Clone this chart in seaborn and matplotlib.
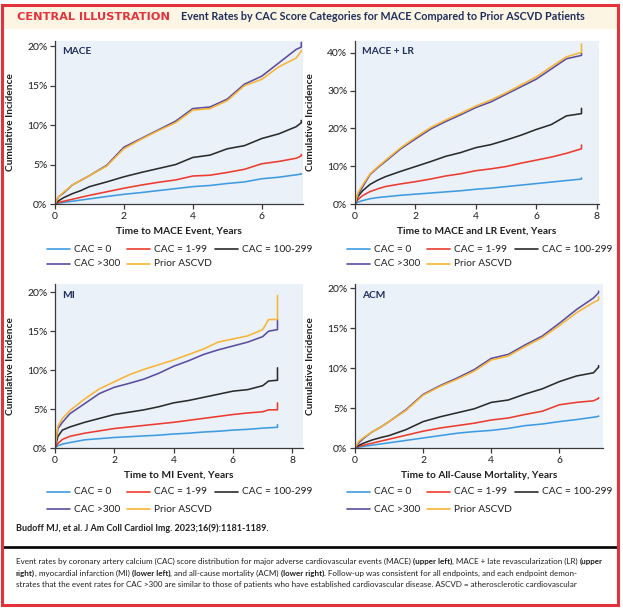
import matplotlib
matplotlib.use("Agg")
import numpy as np
import pandas as pd
import matplotlib.pyplot as plt
import seaborn as sns
from matplotlib.patches import Rectangle
from matplotlib.lines import Line2D

W, H, DPI = 623, 609, 100

groups = ["CAC = 0", "CAC = 1-99", "CAC = 100-299", "CAC >300", "Prior ASCVD"]
colors = ["#3f9be0", "#ec3b2f", "#2b2b2b", "#5b4d9f", "#f8b435"]

# MACE (upper left)
mace_t = [0, 0.1, 0.25, 0.5, 0.75, 1, 1.5, 2, 2.5, 3, 3.5, 4, 4.5, 5, 5.5, 6, 6.5, 7, 7.15, 7.15]
mace_cac0 = [0, 0.1, 0.2, 0.35, 0.5, 0.65, 0.95, 1.23, 1.45, 1.7, 1.95, 2.2, 2.35, 2.6, 2.8, 3.2, 3.4, 3.7, 3.8, 3.85]
mace_cac1 = [0, 0.2, 0.35, 0.6, 0.85, 1.1, 1.55, 2.0, 2.4, 2.75, 3.05, 3.55, 3.65, 4.0, 4.4, 5.1, 5.4, 5.8, 6.1, 6.3]
mace_cac100 = [0, 0.4, 0.8, 1.3, 1.7, 2.2, 2.8, 3.45, 4.0, 4.5, 5.0, 5.9, 6.2, 7.0, 7.4, 8.3, 8.9, 9.8, 10.3, 10.6]
mace_cac300 = [0, 0.9, 1.4, 2.4, 3.0, 3.6, 4.9, 7.2, 8.3, 9.4, 10.5, 12.1, 12.3, 13.3, 15.2, 16.2, 17.9, 19.6, 19.9, 20.5]
mace_prior = [0, 0.9, 1.5, 2.4, 3.0, 3.6, 4.8, 7.0, 8.2, 9.3, 10.3, 11.9, 12.1, 13.1, 15.0, 15.8, 17.4, 18.5, 19.4, 19.5]

# MACE + LR (upper right)
lr_t = [0, 0.1, 0.25, 0.5, 0.75, 1, 1.5, 2, 2.5, 3, 3.5, 4, 4.5, 5, 5.5, 6, 6.5, 7, 7.5, 7.5]
lr_cac0 = [0, 0.5, 0.9, 1.4, 1.7, 1.9, 2.3, 2.6, 2.9, 3.2, 3.5, 3.9, 4.2, 4.6, 5.0, 5.4, 5.8, 6.2, 6.6, 6.9]
lr_cac1 = [0, 1.2, 2.2, 3.3, 4.0, 4.6, 5.3, 5.9, 6.6, 7.4, 8.0, 8.8, 9.3, 9.9, 10.8, 11.6, 12.4, 13.4, 14.6, 15.6]
lr_cac100 = [0, 2.0, 3.5, 5.2, 6.3, 7.2, 8.6, 9.9, 11.2, 12.6, 13.6, 14.9, 15.7, 16.9, 18.2, 19.7, 21.0, 23.3, 23.9, 25.3]
lr_cac300 = [0, 2.5, 4.5, 7.8, 9.6, 11.2, 14.5, 17.2, 19.8, 21.8, 23.6, 25.5, 27.0, 29.0, 31.0, 33.0, 35.7, 38.4, 39.3, 40.0]
lr_prior = [0, 3.0, 5.0, 8.0, 9.8, 11.5, 14.8, 17.6, 20.2, 22.2, 24.0, 25.9, 27.5, 29.4, 31.5, 33.6, 36.3, 38.9, 40.1, 42.3]

# MI (lower left)
mi_t = [0, 0.1, 0.25, 0.5, 1, 1.5, 2, 2.5, 3, 3.5, 4, 4.5, 5, 5.5, 6, 6.5, 7, 7.2, 7.5, 7.5]
mi_cac0 = [0, 0.3, 0.5, 0.7, 1.05, 1.2, 1.35, 1.45, 1.55, 1.65, 1.8, 1.9, 2.05, 2.15, 2.3, 2.4, 2.55, 2.6, 2.65, 3.0]
mi_cac1 = [0, 0.6, 1.1, 1.5, 1.9, 2.2, 2.5, 2.7, 2.9, 3.1, 3.3, 3.55, 3.8, 4.05, 4.3, 4.5, 4.65, 4.9, 4.9, 5.8]
mi_cac100 = [0, 1.5, 2.3, 2.7, 3.3, 3.8, 4.3, 4.6, 4.9, 5.3, 5.8, 6.1, 6.5, 6.9, 7.3, 7.5, 8.0, 8.6, 8.7, 10.3]
mi_cac300 = [0, 2.5, 3.3, 4.4, 5.7, 7.0, 7.8, 8.3, 8.85, 9.6, 10.5, 11.2, 12.0, 12.6, 13.1, 13.6, 14.3, 15.0, 15.2, 16.5]
mi_prior = [0, 2.8, 3.8, 4.8, 6.3, 7.6, 8.5, 9.4, 10.1, 10.7, 11.3, 12.0, 12.7, 13.6, 14.0, 14.4, 15.2, 16.5, 16.5, 19.6]

# ACM (lower right)
acm_t = [0, 0.1, 0.25, 0.5, 0.75, 1, 1.5, 2, 2.5, 3, 3.5, 4, 4.5, 5, 5.5, 6, 6.5, 7, 7.15, 7.15]
acm_cac0 = [0, 0.1, 0.2, 0.35, 0.5, 0.65, 0.95, 1.25, 1.55, 1.85, 2.05, 2.2, 2.45, 2.8, 3.0, 3.3, 3.55, 3.85, 3.95, 4.0]
acm_cac1 = [0, 0.2, 0.35, 0.6, 0.85, 1.1, 1.6, 2.1, 2.5, 2.8, 3.1, 3.5, 3.75, 4.2, 4.6, 5.4, 5.7, 5.9, 6.2, 6.3]
acm_cac100 = [0, 0.3, 0.6, 1.0, 1.3, 1.55, 2.3, 3.3, 3.9, 4.4, 4.9, 5.7, 6.0, 6.75, 7.4, 8.3, 9.0, 9.4, 10.1, 10.3]
acm_cac300 = [0, 0.6, 1.2, 2.0, 2.6, 3.3, 4.8, 6.7, 7.8, 8.75, 9.8, 11.2, 11.7, 12.9, 14.0, 15.6, 17.3, 18.75, 19.4, 19.6]
acm_prior = [0, 0.8, 1.3, 2.0, 2.6, 3.3, 4.7, 6.6, 7.7, 8.6, 9.6, 11.0, 11.5, 12.7, 13.8, 15.3, 16.9, 18.2, 18.5, 18.9]

panels = [
    dict(name="MACE", xlabel="Time to MACE Event, Years", t=mace_t,
         vals=[mace_cac0, mace_cac1, mace_cac100, mace_cac300, mace_prior],
         box=(55, 41, 303, 204), xlim=7.2, ylim=20.67, xticks=[0, 2, 4, 6], yticks=[0, 5, 10, 15, 20]),
    dict(name="MACE + LR", xlabel="Time to MACE and LR Event, Years", t=lr_t,
         vals=[lr_cac0, lr_cac1, lr_cac100, lr_cac300, lr_prior],
         box=(355, 41, 599, 204), xlim=8.08, ylim=43.1, xticks=[0, 2, 4, 6, 8], yticks=[0, 10, 20, 30, 40]),
    dict(name="MI", xlabel="Time to MI Event, Years", t=mi_t,
         vals=[mi_cac0, mi_cac1, mi_cac100, mi_cac300, mi_prior],
         box=(55, 284, 303, 448), xlim=8.36, ylim=21.06, xticks=[0, 2, 4, 6, 8], yticks=[0, 5, 10, 15, 20]),
    dict(name="ACM", xlabel="Time to All-Cause Mortality, Years", t=acm_t,
         vals=[acm_cac0, acm_cac1, acm_cac100, acm_cac300, acm_prior],
         box=(355, 284, 603, 448), xlim=7.28, ylim=20.5, xticks=[0, 2, 4, 6], yticks=[0, 5, 10, 15, 20]),
]

sns.set_theme(style="white")
plt.rcParams['font.family'] = ['Lato', 'DejaVu Sans']

TXT = "#1e1e1e"
NAVY = "#1f2f5c"
RED = "#e2333d"

fig = plt.figure(figsize=(W / DPI, H / DPI), dpi=DPI)
fig.patch.set_facecolor("white")


def fx(x):
    return x / W


def fy(y):
    return 1 - y / H


# header strip and frame
fig.add_artist(Rectangle((fx(3), fy(28.5)), fx(614), 23 / H, transform=fig.transFigure,
                         facecolor="#fdf5e3", edgecolor="none", zorder=0))
fig.add_artist(Rectangle((fx(1.8), fy(604.5)), fx(616), 600 / H, transform=fig.transFigure,
                         facecolor="none", edgecolor=RED, lw=2.2, zorder=5))
fig.text(fx(17), fy(17), "CENTRAL ILLUSTRATION", color=RED, fontsize=8.2, fontweight="bold",
         family=["DejaVu Sans"], va="center", ha="left")
fig.text(fx(181), fy(17), "Event Rates by CAC Score Categories for MACE Compared to Prior ASCVD Patients",
         color=NAVY, fontsize=7.75, fontweight="bold", va="center", ha="left")

for i, p in enumerate(panels):
    l, t, r, b = p["box"]
    ax = fig.add_axes([fx(l), fy(b), (r - l) / W, (b - t) / H])
    ax.set_facecolor("#eaf1f9")

    rows = []
    for g, v in zip(groups, p["vals"]):
        for tt, vv in zip(p["t"], v):
            rows.append((tt, vv, g))
    df = pd.DataFrame(rows, columns=["time", "inc", "group"])
    sns.lineplot(data=df, x="time", y="inc", hue="group", hue_order=groups, palette=colors,
                 estimator=None, sort=False, lw=1.15, legend=False, ax=ax)

    ax.set_xlim(0, p["xlim"])
    ax.set_ylim(0, p["ylim"])
    ax.set_xticks(p["xticks"])
    ax.set_yticks(p["yticks"])
    ax.set_yticklabels([f"{v}%" for v in p["yticks"]])
    for s in ["top", "right"]:
        ax.spines[s].set_visible(False)
    for s in ["left", "bottom"]:
        ax.spines[s].set_color("#3a3a3a")
        ax.spines[s].set_linewidth(0.9)
    ax.tick_params(direction="out", length=3.5, width=0.9, color="#3a3a3a",
                   labelsize=7.5, labelcolor=TXT, pad=2, bottom=True, left=True)
    ax.set_xlabel(p["xlabel"], fontsize=7.3, fontweight="bold", color=TXT)
    ax.set_ylabel("Cumulative Incidence", fontsize=7.3, fontweight="bold", color=TXT)
    ax.xaxis.set_label_coords(0.5, -23 / (b - t))
    ax.yaxis.set_label_coords(-40 / (r - l), 0.5)
    name_y = 52 if t < 100 else 296
    ax.text(7 / (r - l), 1 - (name_y - t) / (b - t), p["name"],
            transform=ax.transAxes, fontsize=7.3, fontweight="bold", color=NAVY,
            va="center", ha="left")

    # legend rows under each panel
    x0 = 47 if l < 300 else 347
    ry = [249, 264] if t < 100 else [492, 509]
    spots = [(0, 0), (1, 0), (2, 0), (0, 1), (1, 1)]
    cols = [0, 80, 168]
    for g, c, (ci, ri) in zip(groups, colors, spots):
        hx = x0 + cols[ci]
        y = ry[ri]
        fig.add_artist(Line2D([fx(hx), fx(hx + 23)], [fy(y), fy(y)], transform=fig.transFigure,
                              color=c, lw=1.2))
        fig.text(fx(hx + 26.5), fy(y), g, fontsize=7.3, color=TXT, va="center", ha="left")

fig.text(fx(16), fy(528), "Budoff MJ, et al. J Am Coll Cardiol Img. 2023;16(9):1181-1189.",
         fontsize=6.5, fontweight="bold", color=TXT, va="center", ha="left")
fig.add_artist(Line2D([fx(3), fx(617)], [fy(547), fy(547)], transform=fig.transFigure,
                      color="black", lw=1.9))

caption = [
    [("Event rates by coronary artery calcium (CAC) score distribution for major adverse cardiovascular events (MACE)", False),
     ("(upper left)", True), (", MACE + late revascularization (LR)", False), ("(upper", True)],
    [("right)", True), (", myocardial infarction (MI)", False), ("(lower left)", True),
     (", and all-cause mortality (ACM)", False), ("(lower right)", True),
     (". Follow-up was consistent for all endpoints, and each endpoint demon-", False)],
    [("strates that the event rates for CAC >300 are similar to those of patients who have established "
      "cardiovascular disease. ASCVD = atherosclerotic cardiovascular", False)],
]
cap_y = [561, 573.5, 585]
renderer = fig.canvas.get_renderer()
cap_size = 5.72
probe = fig.text(0, 0, "a a", fontsize=cap_size)
w2 = probe.get_window_extent(renderer).width
probe.set_text("aa")
space_w = w2 - probe.get_window_extent(renderer).width
probe.remove()
for line, y in zip(caption, cap_y):
    x = 16
    for k, (txt, bold) in enumerate(line):
        if k > 0 and not txt.startswith((",", ".")):
            x += space_w
        tt = fig.text(fx(x), fy(y), txt, fontsize=cap_size, fontweight="bold" if bold else "normal",
                      color=TXT, va="center", ha="left")
        x += tt.get_window_extent(renderer).width

fig.savefig("out.png", dpi=DPI)
